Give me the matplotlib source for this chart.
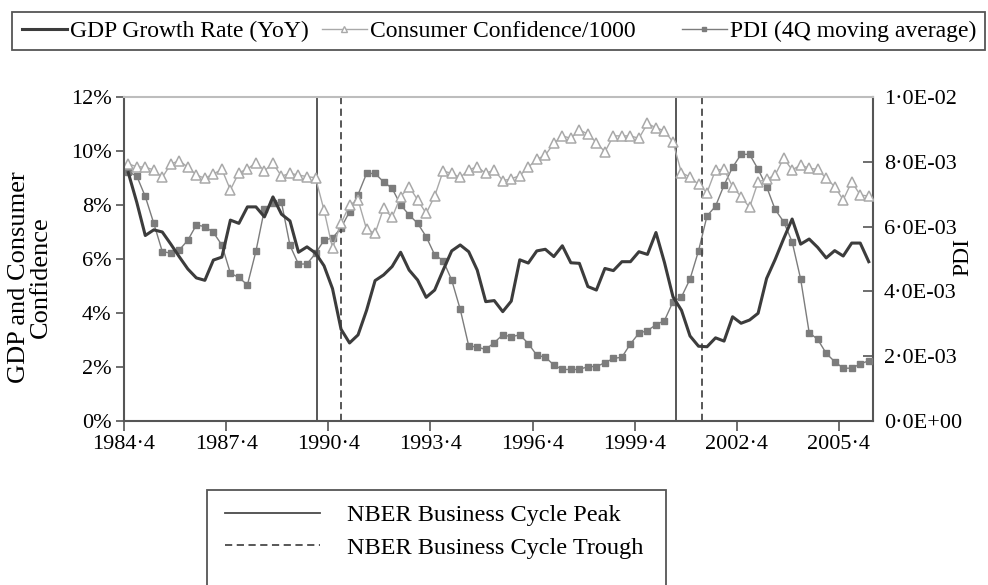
import numpy as np
import matplotlib
matplotlib.use('Agg')
import matplotlib.pyplot as plt
from matplotlib.lines import Line2D
from matplotlib.patches import Rectangle
from matplotlib.ticker import FuncFormatter, FixedLocator, MultipleLocator

plt.rcParams['font.family'] = ['Liberation Serif', 'DejaVu Serif']

# ---------------- data (quarterly, 1984Q4 .. 2006Q3) ----------------
tick_labels = ['1984·4', '1987·4', '1990·4', '1993·4', '1996·4', '1999·4', '2002·4', '2005·4']

gdp = [9.20, 8.10, 6.87, 7.08, 7.00, 6.55, 6.08, 5.63, 5.30, 5.21,
       5.96, 6.07, 7.44, 7.32, 7.93, 7.93, 7.56, 8.30, 7.66, 7.41,
       6.25, 6.45, 6.22, 5.75, 4.90, 3.40, 2.89, 3.19, 4.10, 5.20,
       5.41, 5.72, 6.25, 5.59, 5.22, 4.58, 4.85, 5.59, 6.30, 6.52,
       6.27, 5.59, 4.42, 4.46, 4.05, 4.44, 5.97, 5.85, 6.30, 6.36,
       6.09, 6.49, 5.86, 5.84, 4.98, 4.85, 5.65, 5.57, 5.90, 5.90,
       6.27, 6.17, 6.98, 5.87, 4.60, 4.10, 3.15, 2.77, 2.75, 3.08,
       2.96, 3.86, 3.62, 3.74, 3.99, 5.28, 5.98, 6.75, 7.48, 6.55,
       6.74, 6.43, 6.04, 6.31, 6.11, 6.59, 6.59, 5.90]

consumer_conf = [9.52, 9.42, 9.40, 9.30, 9.02, 9.52, 9.64, 9.40, 9.11, 8.99,
                 9.15, 9.32, 8.56, 9.20, 9.33, 9.57, 9.27, 9.54, 9.07, 9.17,
                 9.11, 9.05, 9.01, 7.81, 6.40, 7.32, 8.00, 8.19, 7.10, 6.95,
                 7.88, 7.54, 8.31, 8.68, 8.19, 7.69, 8.33, 9.26, 9.17, 9.02,
                 9.30, 9.42, 9.17, 9.30, 8.90, 8.97, 9.09, 9.40, 9.69, 9.85,
                 10.28, 10.56, 10.47, 10.78, 10.63, 10.31, 9.97, 10.56, 10.56, 10.56,
                 10.47, 11.02, 10.86, 10.75, 10.33, 9.19, 9.04, 8.76, 8.46, 9.30,
                 9.32, 8.68, 8.31, 7.91, 8.86, 8.95, 9.11, 9.73, 9.30, 9.48,
                 9.36, 9.32, 8.99, 8.68, 8.19, 8.86, 8.37, 8.33]

pdi = [0.00769, 0.00756, 0.00693, 0.00610, 0.00523, 0.00518, 0.00528, 0.00558, 0.00605, 0.00600,
       0.00582, 0.00543, 0.00456, 0.00443, 0.00420, 0.00524, 0.00653, 0.00674, 0.00675, 0.00542,
       0.00484, 0.00485, 0.00517, 0.00558, 0.00565, 0.00596, 0.00646, 0.00699, 0.00764, 0.00764,
       0.00738, 0.00718, 0.00667, 0.00636, 0.00610, 0.00569, 0.00513, 0.00495, 0.00435, 0.00345,
       0.00232, 0.00228, 0.00221, 0.00242, 0.00266, 0.00260, 0.00266, 0.00239, 0.00203, 0.00197,
       0.00173, 0.00159, 0.00159, 0.00159, 0.00168, 0.00168, 0.00180, 0.00193, 0.00197, 0.00238,
       0.00271, 0.00279, 0.00297, 0.00310, 0.00368, 0.00383, 0.00438, 0.00525, 0.00633, 0.00663,
       0.00728, 0.00783, 0.00823, 0.00823, 0.00777, 0.00723, 0.00653, 0.00615, 0.00553, 0.00438,
       0.00273, 0.00252, 0.00209, 0.00183, 0.00163, 0.00163, 0.00176, 0.00186]

# NBER turning points, in quarters after 1984Q4
nber_peaks = [22.7, 64.8]
nber_troughs = [25.45, 67.95]

series_labels = ['GDP Growth Rate (YoY)', 'Consumer Confidence/1000', 'PDI (4Q moving average)']
nber_labels = ['NBER Business Cycle Peak', 'NBER Business Cycle Trough']

# ---------------- figure ----------------
W, H = 988, 585
fig = plt.figure(figsize=(W / 100, H / 100), dpi=100)
fig.patch.set_facecolor('white')

L, R, T, B = 124, 873, 97, 421
ax = fig.add_axes([L / W, 1 - B / H, (R - L) / W, (B - T) / H])
ax2 = ax.twinx()
ax.set_zorder(ax2.get_zorder() + 1)
ax.patch.set_visible(False)
ax2.patch.set_visible(False)

x = np.arange(len(gdp)) + 0.5

dark = '#3c3c3c'
light = '#a9a9a9'
mid = '#7c7c7c'
vline_c = '#4a4a4a'
dash = (0, (4, 2.5))

ax.plot(x, consumer_conf, color=light, lw=1.0, marker='^', ms=6.5,
        mfc='white', mec=light, mew=1.1, zorder=2)
ax.plot(x, gdp, color=dark, lw=2.2, zorder=4)
ax2.plot(x, pdi, color=mid, lw=1.0, marker='s', ms=5, mfc=mid, mec=mid, zorder=3)

for p in nber_peaks:
    ax.axvline(p, color=vline_c, lw=1.3, zorder=1)
for t in nber_troughs:
    ax.axvline(t, color=vline_c, lw=1.3, ls=dash, zorder=1)

FS = 16
ax.set_xlim(0, len(gdp))
ax.set_ylim(0, 12)
ax2.set_ylim(0, 0.01)

ax.xaxis.set_major_locator(FixedLocator(np.arange(0, len(gdp), 12)))
ax.set_xticklabels(tick_labels)
ax.yaxis.set_major_locator(MultipleLocator(2))
ax.yaxis.set_major_formatter(FuncFormatter(lambda v, p: f'{int(round(v))}%'))


def sci(v, p):
    if abs(v) < 1e-12:
        return '0·0E+00'
    e = int(np.floor(np.log10(abs(v)) + 1e-9))
    m = v / 10 ** e
    s = f'{m:.1f}'.replace('.', '·')
    sign = '-' if e < 0 else '+'
    return f'{s}E{sign}{abs(e):02d}'


ax2.yaxis.set_major_locator(MultipleLocator(0.002))
ax2.yaxis.set_major_formatter(FuncFormatter(sci))

ax.tick_params(axis='x', direction='out', length=7, width=1.2, color='#555555',
               labelsize=FS, pad=3)
ax.tick_params(axis='y', direction='out', length=6, width=1.2, color='#555555',
               labelsize=FS, pad=3)
ax2.tick_params(axis='y', direction='in', length=7, width=1.2, color='#555555',
                labelsize=FS, pad=8)

for a in (ax, ax2):
    for s in a.spines.values():
        s.set_visible(False)
for side in ('left', 'bottom'):
    ax.spines[side].set_visible(True)
    ax.spines[side].set_color('#555555')
    ax.spines[side].set_linewidth(1.5)
ax.spines['top'].set_visible(True)
ax.spines['top'].set_color('#bdbdbd')
ax.spines['top'].set_linewidth(1.5)
ax2.spines['right'].set_visible(True)
ax2.spines['right'].set_color('#555555')
ax2.spines['right'].set_linewidth(1.5)

# axis titles
fig.text(30 / W, 1 - 277 / H, 'GDP and Consumer\nConfidence', rotation=90,
         ha='center', va='center', fontsize=19, linespacing=1.0, multialignment='center')
fig.text(963 / W, 1 - 257 / H, 'PDI', rotation=90, ha='center', va='center', fontsize=17)

# ---------------- top legend (three entries placed like the original) ----------------
handles = [
    Line2D([], [], color=dark, lw=2.2),
    Line2D([], [], color=light, lw=1.0, marker='^', ms=4, mfc='white', mec=light),
    Line2D([], [], color=mid, lw=1.0, marker='s', ms=3.5, mfc=mid, mec=mid),
]
entry_x = [22, 322, 682]
for h, lab, ex in zip(handles, series_labels, entry_x):
    fig.legend([h], [lab], loc='center left', bbox_to_anchor=(ex / W, 1 - 31 / H),
               frameon=False, fontsize=17, borderpad=0, borderaxespad=0,
               handlelength=1.9, handletextpad=0.15)
fig.add_artist(Rectangle((12 / W, 1 - 50 / H), (985 - 12) / W, 38 / H,
                         transform=fig.transFigure, fill=False,
                         edgecolor='#555555', lw=1.3))

# ---------------- bottom legend ----------------
h2 = [Line2D([], [], color=vline_c, lw=1.3),
      Line2D([], [], color=vline_c, lw=1.3, ls=dash)]
fig.legend(h2, nber_labels, loc='upper left', frameon=False,
           bbox_to_anchor=(225 / W, 1 - 504 / H), fontsize=17.5,
           handlelength=3.9, handletextpad=1.1, labelspacing=0.45,
           borderaxespad=0, borderpad=0)
fig.add_artist(Rectangle((207 / W, -0.05), (666 - 207) / W, 0.05 + 1 - 490 / H,
                         transform=fig.transFigure, fill=False,
                         edgecolor='#555555', lw=1.3, clip_on=False))

fig.savefig('out.png', dpi=100, facecolor='white')
